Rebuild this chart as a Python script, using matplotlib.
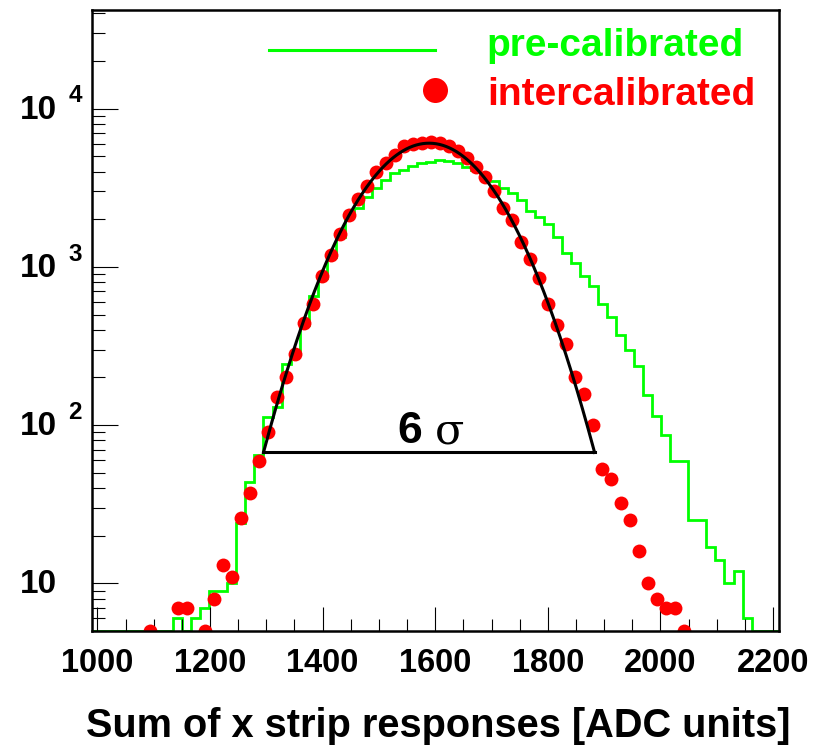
import numpy as np
import matplotlib.pyplot as plt
from matplotlib.ticker import MultipleLocator, LogLocator, NullFormatter

plt.rcParams['font.family'] = ['Liberation Sans', 'DejaVu Sans']
plt.rcParams['font.weight'] = 'bold'

# binning of the two distributions (ADC units)
x_lo, x_hi, n_bins = 990, 2210, 76
y_lo, y_hi = 5, 4.2e4

# counts per bin (0 = below the axis minimum)
pre_calibrated = [
    0, 0, 0, 0, 0, 0, 0, 0, 0, 6,
    0, 6, 7, 9, 9, 10, 24, 44, 65, 112,
    131, 245, 290, 430, 650, 850, 1150, 1550, 2180, 2340,
    2770, 3130, 3540, 3900, 4090, 4350, 4510, 4620, 4740, 4690,
    4550, 4300, 4100, 3800, 3470, 3160, 2920, 2650, 2260, 2060,
    1870, 1550, 1220, 1060, 880, 760, 580, 480, 370, 300,
    235, 155, 115, 86, 59, 59, 25, 25, 17, 14,
    10, 12, 6, 0, 0, 0,
]
intercalibrated = [
    0, 0, 0, 0, 0, 0, 5, 0, 0, 7,
    7, 0, 5, 8, 13, 11, 26, 37, 59, 90,
    150, 201, 283, 445, 581, 878, 1186, 1603, 2123, 2672,
    3242, 3993, 4512, 5093, 5803, 5980, 6040, 6130, 6040, 5800,
    5420, 4855, 4295, 3715, 3028, 2342, 1976, 1439, 1128, 845,
    581, 428, 324, 200, 158, 100, 53, 46, 32, 25,
    16, 10, 8, 7, 7, 5, 0, 0, 0, 0,
    0, 0, 0, 0, 0, 0,
]

# gaussian fit of the intercalibrated peak
fit_amp, fit_mean, fit_sigma = 6050, 1589, 98

y_decades = [1, 2, 3, 4]

edges = np.linspace(x_lo, x_hi, n_bins + 1)
centers = 0.5 * (edges[:-1] + edges[1:])
green = np.array(pre_calibrated, dtype=float)
red = np.array(intercalibrated, dtype=float)

fig = plt.figure(figsize=(8.25, 7.48), dpi=100)
ax = fig.add_axes([0.1112, 0.1564, 0.8327, 0.8302])

# histogram (empty bins drawn on the bottom line, like ROOT does)
ax.stairs(np.clip(green, y_lo, None), edges, baseline=None, color='#00ff00', lw=2.0)

m = red > 0
ax.plot(centers[m], red[m], 'o', color='red', ms=10, mec='none')

xf = np.linspace(fit_mean - 3 * fit_sigma, fit_mean + 3 * fit_sigma, 300)
yf = fit_amp * np.exp(-0.5 * ((xf - fit_mean) / fit_sigma) ** 2)
ax.plot(xf, yf, color='black', lw=2.2)
ax.plot([xf[0], xf[-1]], [yf[0], yf[-1]], color='black', lw=2.2)

ax.text(0.4444, 0.3023, '6', transform=ax.transAxes, fontsize=32, fontweight='bold',
        ha='left', va='baseline')
ax.text(0.4996, 0.3023, '\u03c3', transform=ax.transAxes, fontsize=31, fontweight='normal',
        family='DejaVu Serif', ha='left', va='baseline')

# axes
ax.set_xlim(x_lo, x_hi)
ax.set_yscale('log')
ax.set_ylim(y_lo, y_hi)
for s in ax.spines.values():
    s.set_linewidth(1.8)

ax.xaxis.set_major_locator(MultipleLocator(200))
ax.xaxis.set_minor_locator(MultipleLocator(50))
ax.tick_params(axis='x', which='major', direction='in', length=17, width=0.8,
               labelsize=23.5, pad=12)
ax.tick_params(axis='x', which='minor', direction='in', length=8.5, width=0.8)

ax.yaxis.set_major_locator(LogLocator(base=10, numticks=10))
ax.yaxis.set_minor_locator(LogLocator(base=10, subs=np.arange(2, 10), numticks=20))
ax.yaxis.set_minor_formatter(NullFormatter())
ax.tick_params(axis='y', which='major', direction='in', length=19, width=0.8, labelleft=False)
ax.tick_params(axis='y', which='minor', direction='in', length=9.5, width=0.8, labelleft=False)

ytr = ax.get_yaxis_transform()
for k in y_decades:
    ax.annotate('10', xy=(0, 10 ** k), xycoords=ytr, xytext=(-25, -1),
                textcoords='offset points', ha='right', va='center', fontsize=24)
    if k > 1:
        ax.annotate(str(k), xy=(0, 10 ** k), xycoords=ytr, xytext=(-17, 4.5),
                    textcoords='offset points', ha='left', va='baseline', fontsize=17.5)

ax.text(1.0165, -0.1707, 'Sum of x strip responses [ADC units]', transform=ax.transAxes,
        ha='right', va='baseline', fontsize=28.6)

# legend
ax.plot([0.258, 0.4997], [0.9356, 0.9356], transform=ax.transAxes, color='#00ff00', lw=2.2)
ax.plot([0.4997], [0.8712], 'o', transform=ax.transAxes, color='red', ms=18, mec='none')
ax.text(0.575, 0.9265, 'pre-calibrated', transform=ax.transAxes, color='#00ff00',
        fontsize=28, ha='left', va='baseline')
ax.text(0.575, 0.8466, 'intercalibrated', transform=ax.transAxes, color='red',
        fontsize=28, ha='left', va='baseline')

fig.savefig('out.png', dpi=100)
